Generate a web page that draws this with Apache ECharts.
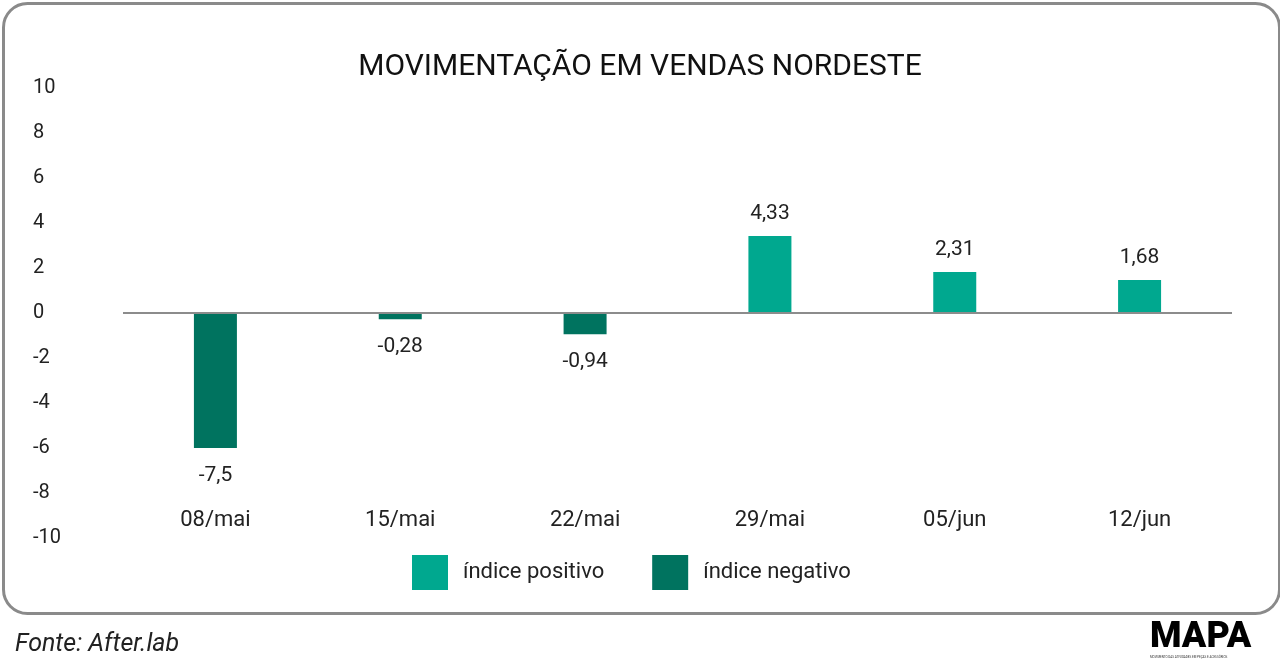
<!DOCTYPE html>
<html><head><meta charset="utf-8">
<script src="https://cdn.jsdelivr.net/npm/echarts@6/dist/echarts.min.js"></script>
<style>html,body{margin:0;padding:0;background:#fff}#c{width:1280px;height:669px}</style>
</head><body><div id="c"></div>
<script>
const categories = ['08/mai','15/mai','22/mai','29/mai','05/jun','12/jun'];
// bar heights as drawn in the picture
const barHeights = [-6.0, -0.28, -0.94, 3.42, 1.82, 1.47];
// data labels as printed
const valueLabels = ['-7,5','-0,28','-0,94','4,33','2,31','1,68'];
const yTicks = [-10, 10, 2];
const seriesNames = ['índice positivo','índice negativo'];
const colors = ['#00A88F','#00735F'];

const posData = barHeights.map(v => v >= 0 ? v : null);
const negData = barHeights.map(v => v < 0 ? v : null);
const font = 'Roboto, "Noto Sans", sans-serif';

const chart = echarts.init(document.getElementById('c'), null, {renderer:'canvas'});
chart.setOption({
  animation:false,
  backgroundColor:'#fff',
  title:{text:'MOVIMENTAÇÃO EM VENDAS NORDESTE', left:'center', top:47,
    textStyle:{fontFamily:font, fontSize:30, fontWeight:'normal', color:'#111'}},
  grid:{left:123, right:48, top:88, bottom:131},
  legend:{left:407, top:550, itemWidth:36, itemHeight:35, itemGap:48,
    icon:'rect',
    textStyle:{fontFamily:font, fontSize:22, color:'#222', padding:[0,0,0,10]},
    data:seriesNames},
  xAxis:{type:'category', data:categories,
    axisLine:{show:false}, axisTick:{show:false},
    axisLabel:{margin:-29, fontFamily:font, fontSize:22, color:'#222'}},
  yAxis:{type:'value', min:yTicks[0], max:yTicks[1], interval:yTicks[2],
    splitLine:{show:false}, axisLine:{show:false}, axisTick:{show:false},
    axisLabel:{align:'left', margin:90, fontFamily:font, fontSize:20, color:'#222'}},
  series:[
    {name:seriesNames[0], type:'bar', stack:'s', data:posData, barWidth:43,
      itemStyle:{color:colors[0]},
      label:{show:true, position:'top', distance:12, fontFamily:font, fontSize:21, color:'#222',
        formatter:p => valueLabels[p.dataIndex]},
      markLine:{silent:true, symbol:'none', label:{show:false},
        lineStyle:{color:'#8c8c8c', width:2, type:'solid'}, data:[{yAxis:0}]}},
    {name:seriesNames[1], type:'bar', stack:'s', data:negData, barWidth:43,
      itemStyle:{color:colors[1]},
      label:{show:true, position:'bottom', distance:17, fontFamily:font, fontSize:21, color:'#222',
        formatter:p => valueLabels[p.dataIndex]}}
  ],
  graphic:[
    {type:'rect', left:1, top:1, shape:{width:1276, height:610, r:24},
      style:{fill:'none', stroke:'#8a8a8a', lineWidth:3}, silent:true},
    {type:'text', left:15, top:632, style:{text:'Fonte: After.lab', font:'italic 25px '+font, fill:'#222'}},
    {type:'text', left:1150, top:620, style:{text:'MAPA', font:'900 36px '+font, fill:'#000'}},
    {type:'text', left:1150, top:656, style:{text:'MOVIMENTO DAS ATIVIDADES EM PEÇAS E ACESSÓRIOS', font:'3px '+font, fill:'#333'}}
  ]
});
</script></body></html>
